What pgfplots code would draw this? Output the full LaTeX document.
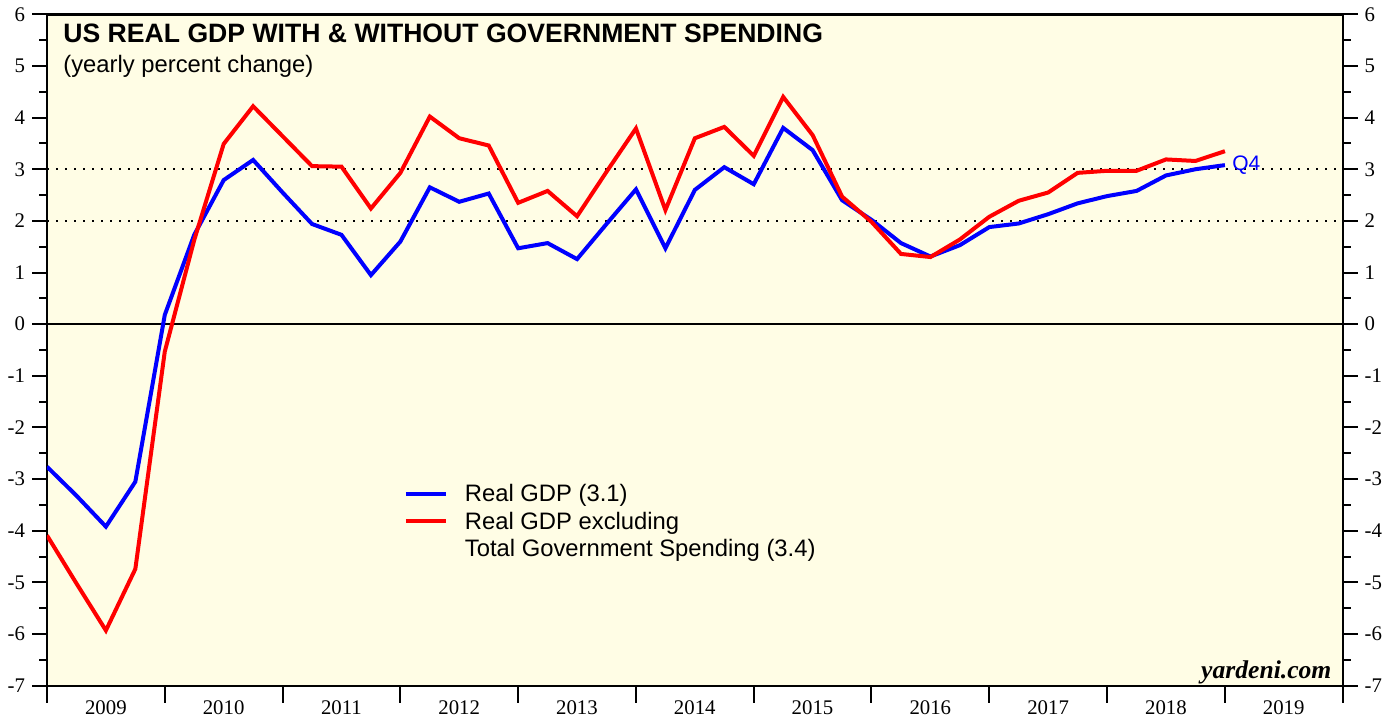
\documentclass[border=0pt]{standalone}
\usepackage{pgfplots}
\usepackage{pgfplotstable}
\pgfplotsset{compat=1.18}
\usepackage{fontspec}
\setmainfont{Liberation Sans}
\newfontfamily\timesf{Liberation Serif}
\definecolor{bg}{RGB}{255,253,229}
\definecolor{gblue}{RGB}{0,0,255}
\definecolor{gred}{RGB}{255,0,0}

\pgfplotstableread{
x blue red
2009.00 -2.76 -4.09
2009.25 -3.32 -5.02
2009.50 -3.92 -5.93
2009.75 -3.05 -4.74
2010.00 0.18 -0.53
2010.25 1.73 1.63
2010.50 2.79 3.49
2010.75 3.18 4.22
2011.00 2.55 3.64
2011.25 1.94 3.06
2011.50 1.73 3.05
2011.75 0.95 2.24
2012.00 1.60 2.93
2012.25 2.65 4.02
2012.50 2.37 3.60
2012.75 2.53 3.46
2013.00 1.47 2.35
2013.25 1.57 2.58
2013.50 1.26 2.09
2013.75 1.94 2.95
2014.00 2.61 3.79
2014.25 1.47 2.21
2014.50 2.60 3.60
2014.75 3.04 3.82
2015.00 2.71 3.26
2015.25 3.80 4.40
2015.50 3.37 3.66
2015.75 2.40 2.47
2016.00 2.02 1.98
2016.25 1.57 1.36
2016.50 1.31 1.30
2016.75 1.53 1.64
2017.00 1.88 2.08
2017.25 1.95 2.39
2017.50 2.13 2.55
2017.75 2.34 2.93
2018.00 2.48 2.97
2018.25 2.58 2.97
2018.50 2.88 3.19
2018.75 3.00 3.16
2019.00 3.08 3.35
}\gdp

\begin{document}
\begin{tikzpicture}
\begin{axis}[
  scale only axis, width=647.85pt, height=335.7pt,
  xmin=2009, xmax=2020, ymin=-7, ymax=6,
  axis background/.style={fill=bg},
  axis line style={line width=1.2pt},
  xtick={2009,...,2020}, x tick label as interval,
  xticklabels={2009,2010,2011,2012,2013,2014,2015,2016,2017,2018,2019},
  xtick pos=lower,
  xticklabel style={yshift=1.2pt, inner sep=1pt},
  ytick={-7,...,6}, minor y tick num=1, ytick pos=left,
  tick align=outside,
  major tick length=7.5pt, minor tick length=4pt,
  x tick style={/pgfplots/major tick length=8.5pt},
  tick style={line width=1pt, black},
  ticklabel style={font=\timesf\fontsize{10.4}{12}\selectfont},
  /pgf/number format/assume math mode=true,
  legend style={at={(axis cs:2012.03,-3.055)}, anchor=north west, draw=none, fill=none,
    inner sep=0pt, outer sep=0pt, row sep=1.75pt, column sep=8.5pt,
    font=\fontsize{11.9}{14}\selectfont,
    nodes={inner sep=0pt, text height=10pt, text depth=2pt}},
  legend cell align=left,
  legend image code/.code={\draw[#1] (0pt,0pt) -- (20pt,0pt);},
]
\addplot[black, line width=1pt, dash pattern=on 1pt off 3.5pt, forget plot] coordinates {(2009,3) (2020,3)};
\addplot[black, line width=1pt, dash pattern=on 1pt off 3.5pt, forget plot] coordinates {(2009,2) (2020,2)};
\addplot[black, line width=1pt, forget plot] coordinates {(2009,0) (2020,0)};
\addplot[gblue, line width=2pt] table[x=x, y=blue] {\gdp};
\addlegendentry{Real GDP (3.1)}
\addplot[gred, line width=2pt] table[x=x, y=red] {\gdp};
\addlegendentry{Real GDP excluding}
\addlegendimage{empty legend}
\addlegendentry{Total Government Spending (3.4)}
\node[anchor=base west, inner sep=0pt, font=\bfseries\fontsize{13.3}{16}\selectfont] at (rel axis cs:0.01235,0.9573) {US REAL GDP WITH \& WITHOUT GOVERNMENT SPENDING};
\node[anchor=base west, inner sep=0pt, font=\fontsize{11.9}{14}\selectfont] at (rel axis cs:0.01235,0.9140) {(yearly percent change)};
\node[anchor=west, inner sep=0pt, text=gblue, font=\fontsize{10.5}{12}\selectfont] at (axis cs:2019.06,3.08) {Q4};
\node[anchor=base east, inner sep=0pt, font=\timesf\bfseries\itshape\fontsize{12.8}{14}\selectfont] at (axis cs:2019.907,-6.87) {yardeni.com};
\end{axis}
\begin{axis}[
  scale only axis, width=647.85pt, height=335.7pt,
  xmin=2009, xmax=2020, ymin=-7, ymax=6,
  axis y line*=right, hide x axis,
  axis line style={line width=1.2pt},
  ytick={-7,...,6}, minor y tick num=1,
  tick align=outside,
  major tick length=7.5pt, minor tick length=4pt,
  tick style={line width=1pt, black},
  ticklabel style={font=\timesf\fontsize{10.4}{12}\selectfont},
  /pgf/number format/assume math mode=true,
]
\end{axis}
\pgfresetboundingbox
\path (-23.5pt,-15.65pt) rectangle (675pt,342.85pt);
\end{tikzpicture}
\end{document}
